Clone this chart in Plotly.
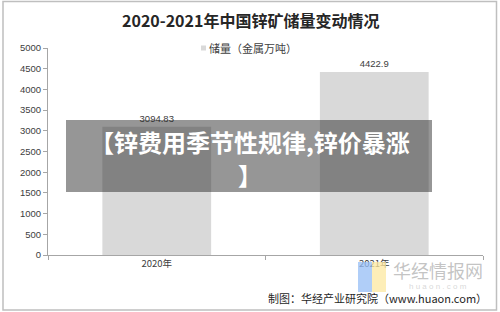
import plotly.graph_objects as go

categories = ["2020年", "2021年"]
reserves = [3094.83, 4422.9]
value_labels = ["3094.83", "4422.9"]
y_ticks = [0, 500, 1000, 1500, 2000, 2500, 3000, 3500, 4000, 4500, 5000]

W, H = 500, 312
L, R, T, B = 48, 483, 48, 255

def px(x):
    return (x - L) / (R - L)

def py(y):
    return (B - y) / (B - T)

CJK = "Noto Sans CJK SC"

fig = go.Figure()
fig.add_trace(go.Bar(
    x=categories, y=reserves, name="储量（金属万吨）",
    marker=dict(color="#d9d9d9", line=dict(width=0)),
    width=0.5,
    text=value_labels, textposition="outside",
    textfont=dict(size=9.5, color="#404040", family="Liberation Sans"),
    cliponaxis=False, showlegend=False,
))

fig.update_layout(
    width=W, height=H,
    margin=dict(l=L, r=W - R, t=T, b=H - B),
    paper_bgcolor="white", plot_bgcolor="white",
    font=dict(family=CJK, color="#404040"),
    showlegend=False,
    bargap=0.5,
    xaxis=dict(showline=True, linecolor="#a6a6a6", linewidth=1,
               ticks="outside", tickson="boundaries", ticklen=4, tickcolor="#a6a6a6",
               tickfont=dict(size=9.5, color="#404040", family=CJK),
               showgrid=False, fixedrange=True),
    yaxis=dict(range=[0, 5000], tickvals=y_ticks, showline=True, linecolor="#a6a6a6",
               linewidth=1, ticks="outside", ticklen=4, tickcolor="#a6a6a6",
               tickfont=dict(size=9.5, color="#404040", family="Liberation Sans"),
               showgrid=False, zeroline=False, fixedrange=True),
)

shapes = []
# outer frame
shapes.append(dict(type="rect", xref="paper", yref="paper",
                   x0=px(3), x1=px(496.5), y0=py(1.5), y1=py(310),
                   line=dict(color="#bfbfbf", width=1.5), fillcolor="rgba(0,0,0,0)", layer="above"))
# legend swatch
shapes.append(dict(type="rect", xref="paper", yref="paper",
                   x0=px(201), x1=px(206), y0=py(45.5), y1=py(50.5),
                   line=dict(width=0), fillcolor="#d9d9d9", layer="above"))
# watermark logo blocks
shapes.append(dict(type="rect", xref="paper", yref="paper",
                   x0=px(358), x1=px(372), y0=py(262), y1=py(292),
                   line=dict(width=0), fillcolor="rgba(150,190,245,0.75)", layer="above"))
shapes.append(dict(type="rect", xref="paper", yref="paper",
                   x0=px(372), x1=px(386), y0=py(262), y1=py(292),
                   line=dict(width=0), fillcolor="rgba(252,232,160,0.75)", layer="above"))
# banner overlay
shapes.append(dict(type="rect", xref="paper", yref="paper",
                   x0=px(66), x1=px(432), y0=py(120), y1=py(192),
                   line=dict(width=0), fillcolor="rgba(32,32,32,0.47)", layer="above"))
fig.update_layout(shapes=shapes)

ann = [
    dict(text="<b>2020-2021年中国锌矿储量变动情况</b>", x=px(250), y=py(20),
         font=dict(size=16, color="#262626", family=CJK)),
    dict(text="储量（金属万吨）", x=px(207), y=py(48), xanchor="left",
         font=dict(size=11, color="#404040", family=CJK)),
    dict(text="华经情报网", x=px(438), y=py(270),
         font=dict(size=18, color="rgba(170,170,170,0.7)", family=CJK)),
    dict(text="h u a o n . c o m", x=px(438), y=py(286.5),
         font=dict(size=8, color="rgba(200,200,200,0.7)", family="Liberation Sans")),
    dict(text="制图：华经产业研究院（www.huaon.com）", x=px(489), y=py(298), xanchor="right",
         font=dict(size=11, color="#262626", family=CJK)),
    dict(text="<b>【锌费用季节性规律,锌价暴涨</b>", x=px(250), y=py(141),
         font=dict(size=24, color="white", family=CJK)),
    dict(text="<b>】</b>", x=px(250), y=py(174),
         font=dict(size=24, color="white", family=CJK)),
]
for a in ann:
    a.setdefault("xanchor", "center")
    a.update(xref="paper", yref="paper", yanchor="middle", showarrow=False)
fig.update_layout(annotations=ann)

fig.write_html("out.html")
